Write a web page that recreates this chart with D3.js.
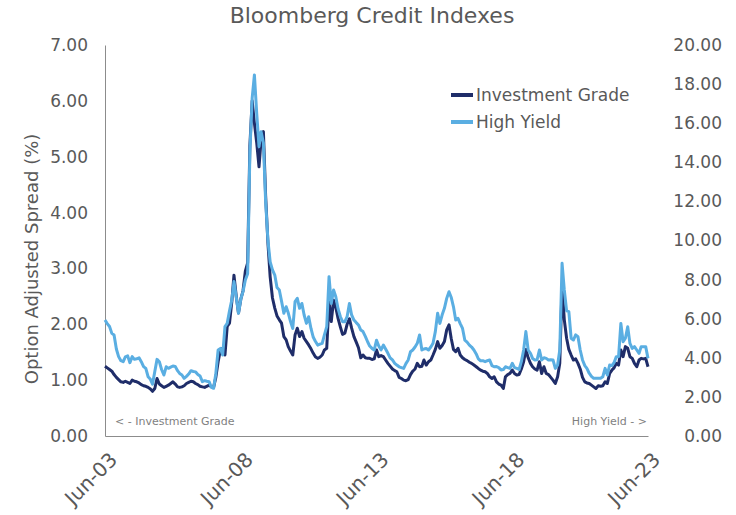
<!DOCTYPE html>
<html><head><meta charset="utf-8">
<script src="https://cdn.jsdelivr.net/npm/d3@7"></script>
<style>
body{margin:0;background:#fff}
svg{display:block}
text{font-family:"DejaVu Sans",Verdana,sans-serif}
</style>
</head><body>
<svg id="c" width="736" height="515"></svg>
<script>
// ---- DATA (monthly, starting Jun 2003) ----
const startYear = 2003, startMonth = 5; // June
const igValues = [
 1.25,1.22,1.19,1.16,1.10,1.05,1.01,0.97,0.96,0.98,0.96,0.94,
 1.00,0.98,0.97,0.95,0.92,0.90,0.89,0.87,0.84,0.80,0.85,1.03,
 0.93,0.90,0.87,0.89,0.91,0.94,0.97,0.93,0.88,0.87,0.88,0.90,
 0.94,0.96,0.98,0.97,0.94,0.92,0.89,0.88,0.87,0.89,0.91,0.88,
 0.87,1.05,1.33,1.54,1.57,1.45,1.96,2.02,2.40,2.88,2.50,2.20,
 2.45,2.60,2.95,3.10,5.20,6.00,5.60,5.25,4.82,5.30,5.45,4.30,
 3.45,2.85,2.47,2.29,2.15,2.08,2.02,1.78,1.72,1.60,1.52,1.45,
 1.81,1.93,1.78,1.87,1.75,1.69,1.63,1.56,1.48,1.42,1.39,1.41,
 1.45,1.54,1.57,2.40,2.05,2.43,2.30,2.10,1.95,1.82,1.84,2.00,
 2.10,1.93,1.78,1.68,1.58,1.40,1.45,1.40,1.39,1.39,1.37,1.38,
 1.54,1.42,1.44,1.42,1.36,1.30,1.25,1.20,1.17,1.15,1.05,1.03,
 1.00,0.99,1.01,1.10,1.16,1.20,1.30,1.24,1.25,1.36,1.27,1.33,
 1.36,1.45,1.55,1.69,1.57,1.62,1.69,1.90,1.99,1.75,1.55,1.51,
 1.57,1.45,1.40,1.37,1.35,1.32,1.30,1.27,1.24,1.21,1.18,1.16,
 1.15,1.12,1.06,1.03,1.06,0.97,0.93,0.91,0.85,1.06,1.10,1.12,
 1.18,1.12,1.09,1.10,1.20,1.33,1.55,1.40,1.30,1.24,1.20,1.18,
 1.33,1.12,1.24,1.12,1.10,1.05,1.00,0.94,1.06,1.30,2.70,2.08,
 1.75,1.55,1.45,1.36,1.38,1.30,1.20,1.05,0.97,0.95,0.94,0.91,
 0.88,0.85,0.90,0.89,0.90,0.97,0.94,1.12,1.18,1.22,1.30,1.27,
 1.54,1.42,1.60,1.57,1.42,1.39,1.30,1.24,1.36,1.39,1.38,1.39,
 1.24
];
const hyValues = [
 5.93,5.75,5.60,5.25,5.17,4.45,4.06,3.85,3.80,4.05,4.10,3.75,
 4.06,3.92,3.95,4.00,3.80,3.55,3.46,3.03,2.90,2.65,3.30,3.92,
 3.80,3.40,3.12,3.54,3.46,3.52,3.58,3.56,3.34,3.20,3.12,2.95,
 3.05,3.17,3.34,3.30,3.28,3.15,3.07,2.78,2.83,2.80,2.78,2.50,
 2.44,3.20,4.40,4.48,4.14,5.60,5.76,6.40,6.96,7.90,7.10,6.28,
 7.00,7.40,7.98,8.30,14.5,17.3,18.47,16.5,14.8,15.56,15.0,12.0,
 10.0,8.9,8.5,8.23,7.6,7.47,6.9,6.28,6.61,6.30,5.85,5.50,
 6.87,7.04,6.53,6.78,6.19,5.76,6.10,5.50,5.05,4.85,4.65,4.70,
 4.74,5.17,5.59,8.15,6.78,7.47,7.12,6.50,6.10,5.85,5.85,6.10,
 6.78,6.19,5.93,5.80,5.68,5.42,5.34,5.10,4.82,4.60,4.48,4.40,
 4.90,4.60,4.40,4.65,4.45,4.23,4.00,3.89,3.72,3.63,3.54,3.50,
 3.46,3.70,3.89,4.31,4.40,4.55,4.74,5.17,4.40,4.45,4.48,4.40,
 4.55,4.74,5.34,6.28,5.76,6.20,6.53,7.04,7.38,7.10,6.61,5.93,
 6.02,5.75,5.50,4.90,4.80,4.65,4.55,4.40,4.20,3.95,3.85,3.85,
 3.80,3.85,3.89,3.60,3.54,3.55,3.50,3.38,3.40,3.54,3.50,3.46,
 3.72,3.50,3.46,3.40,3.80,4.40,5.34,4.40,4.23,3.97,3.89,3.90,
 4.40,3.89,4.00,3.97,3.89,3.90,3.89,3.46,3.63,4.40,8.83,7.47,
 6.40,6.36,5.00,4.91,5.17,5.08,4.40,3.89,3.60,3.46,3.21,3.05,
 2.95,2.95,2.95,2.95,3.03,3.46,3.12,3.63,3.60,3.75,4.06,4.06,
 5.76,4.82,5.00,5.59,4.74,4.48,4.57,4.40,4.23,4.57,4.57,4.57,
 3.97
];
const leftTicks = [0,1,2,3,4,5,6,7];
const rightTicks = [0,2,4,6,8,10,12,14,16,18,20];
const xTickYears = [2003,2008,2013,2018,2023];
const seriesNames = ["Investment Grade","High Yield"];
const seriesColors = ["#1f2d69","#5aaee2"];
const titleText = "Bloomberg Credit Indexes";
const yTitle = "Option Adjusted Spread (%)";
const noteLeft = "< - Investment Grade";
const noteRight = "High Yield - >";

// ---- LAYOUT ----
const L = 105, R = 648, T = 45, B = 436;
const svg = d3.select("#c");
const start = new Date(startYear, startMonth, 1);
const dates = igValues.map((_, i) => d3.timeMonth.offset(start, i));
const x = d3.scaleTime().domain([start, new Date(2023, 5, 1)]).range([L, R]);
const yL = d3.scaleLinear().domain([0, 7]).range([B, T]);
const yR = d3.scaleLinear().domain([0, 20]).range([B, T]);
const textCol = "#595959";

// title
svg.append("text").attr("x", 372).attr("y", 23).attr("text-anchor","middle")
  .attr("font-size", 22).attr("fill", textCol).text(titleText);

// left axis
const gL = svg.append("g").attr("transform", `translate(${L},0)`)
  .call(d3.axisLeft(yL).tickValues(leftTicks).tickFormat(d3.format(".2f")).tickSize(0).tickPadding(17));
gL.select(".domain").attr("stroke", "#8c8c8c").attr("stroke-width", 1);
gL.selectAll("text").attr("font-size", 17).attr("fill", textCol).attr("font-family", "DejaVu Sans");

// right axis
const gR = svg.append("g").attr("transform", `translate(${R},0)`)
  .call(d3.axisRight(yR).tickValues(rightTicks).tickFormat(d3.format(".2f")).tickSize(0));
gR.select(".domain").remove();
gR.selectAll("text").attr("font-size", 17).attr("fill", textCol).attr("font-family", "DejaVu Sans")
  .attr("text-anchor", "end").attr("x", 74);

// bottom axis
const gB = svg.append("g").attr("transform", `translate(0,${B})`)
  .call(d3.axisBottom(x).tickValues(xTickYears.map(y => new Date(y, 5, 1)))
    .tickFormat(d3.timeFormat("%b-%y")).tickSize(0));
gB.select(".domain").attr("stroke", "#8c8c8c").attr("stroke-width", 1);
gB.selectAll(".tick text").attr("font-size", 20).attr("fill", textCol).attr("font-family", "DejaVu Sans")
  .attr("text-anchor", "end").attr("dy", "0.35em").attr("y", 0)
  .attr("transform", "translate(8,20) rotate(-45)");

// y title
svg.append("text").attr("transform", "translate(38,259) rotate(-90)")
  .attr("text-anchor","middle").attr("font-size", 18).attr("fill", textCol).text(yTitle);

// notes
svg.append("text").attr("x", 115).attr("y", 425).attr("font-size", 11).attr("fill", "#7f7f7f").text(noteLeft);
svg.append("text").attr("x", 647).attr("y", 425).attr("text-anchor","end").attr("font-size", 11).attr("fill", "#7f7f7f").text(noteRight);

// lines
const lineIG = d3.line().x((d, i) => x(dates[i])).y(d => yL(d));
const lineHY = d3.line().x((d, i) => x(dates[i])).y(d => yR(d));
svg.append("path").datum(igValues).attr("d", lineIG).attr("fill","none")
  .attr("stroke", seriesColors[0]).attr("stroke-width", 3).attr("stroke-linejoin","round");
svg.append("path").datum(hyValues).attr("d", lineHY).attr("fill","none")
  .attr("stroke", seriesColors[1]).attr("stroke-width", 3).attr("stroke-linejoin","round");

// legend
const lg = svg.append("g").attr("transform", "translate(451,0)");
seriesNames.forEach((n, i) => {
  const yy = 95 + i * 27;
  lg.append("line").attr("x1", 0).attr("x2", 22).attr("y1", yy).attr("y2", yy)
    .attr("stroke", seriesColors[i]).attr("stroke-width", 4);
  lg.append("text").attr("x", 25).attr("y", yy).attr("dy", "0.35em")
    .attr("font-size", 17).attr("fill", textCol).text(n);
});
</script>
</body></html>
